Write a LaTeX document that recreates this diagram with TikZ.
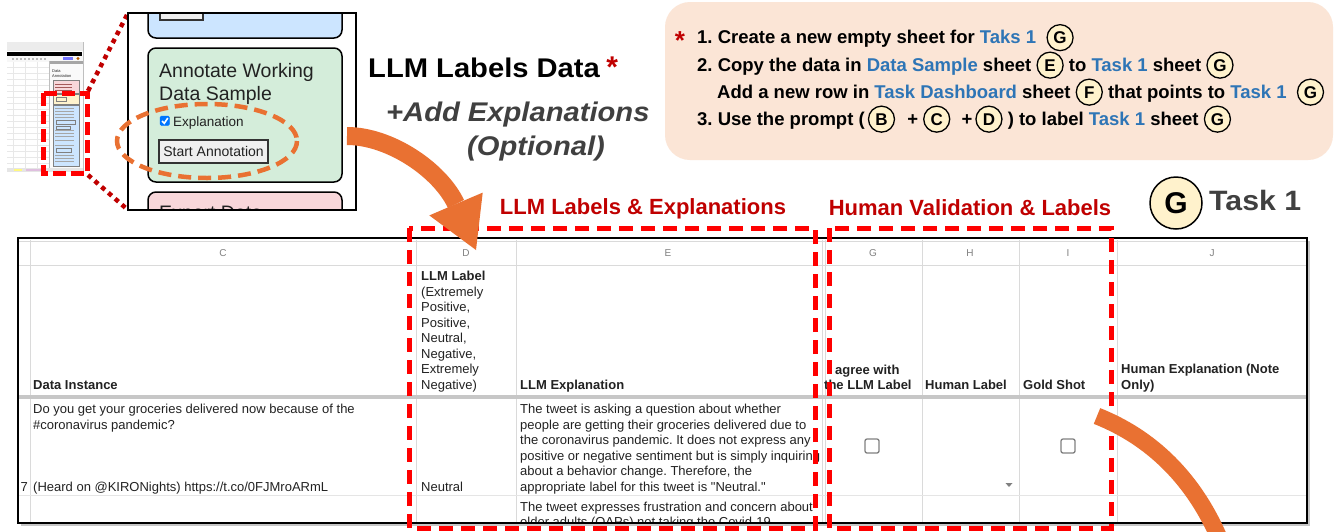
\documentclass[tikz,border=0pt]{standalone}
\usepackage{fontspec}
\setmainfont{Liberation Sans}[Ligatures=TeXOff]
\newfontfamily\widefont{Liberation Sans}[FakeStretch=1.08,Ligatures=TeXOff]
\usetikzlibrary{shapes.geometric}
\frenchspacing
\definecolor{orng}{HTML}{E97132}
\definecolor{darkred}{HTML}{C00000}
\definecolor{peach}{HTML}{FBE5D6}
\definecolor{linkblue}{HTML}{2E75B6}
\definecolor{circfill}{HTML}{FFF2CC}
\definecolor{titlegray}{HTML}{404040}
\definecolor{greenbox}{HTML}{D4EDDA}
\definecolor{bluebox}{HTML}{CCE5FF}
\definecolor{pinkbox}{HTML}{F8D7DA}
\definecolor{yellowbox}{HTML}{FFF3CD}
\definecolor{tabtext}{HTML}{222222}
\definecolor{gridline}{HTML}{DADADA}
\definecolor{chkblue}{HTML}{0075FF}
\definecolor{btnfill}{HTML}{EFEFEF}
\newcommand\fsz[2]{\fontsize{#1}{#2}\selectfont}
\newcommand\lnk[1]{\textcolor{linkblue}{#1}}
\tikzset{
  circ/.style={circle, draw, line width=1.3pt, fill=circfill, inner sep=0pt, minimum size=26pt, font={\normalfont\bfseries\fsz{17}{17}}},
  tabtxt/.style={anchor=base west, inner sep=0pt, text=tabtext, font={\fsz{13}{15.5}}, align=left},
  tabhead/.style={tabtxt, font={\bfseries\fsz{13}{15.5}}},
  colletter/.style={inner sep=0pt, text=gray, font={\fsz{10}{12}}},
  reddash/.style={draw=red, line width=5pt, dash pattern=on 14pt off 8pt},
  secttitle/.style={inner sep=0pt, text=darkred, font={\bfseries\fsz{22}{24}}},
  steptext/.style={anchor=base west, inner sep=0pt, font={\bfseries\fsz{18.5}{20}}},
  chkbox/.style={draw=gray, line width=1.3pt, rounded corners=2pt, minimum size=14pt, inner sep=0pt},
  uibox/.style={draw=black, line width=1.5pt, rounded corners=8pt},
  uitext/.style={anchor=base west, inner sep=0pt, text=tabtext},
  orangeline/.style={draw=orng, line width=18pt},
}
\newcommand\cl[1]{\tikz[baseline=(cc.base)]\node[circ](cc){#1};}
\begin{document}
\begin{tikzpicture}[x=1pt,y=-1pt]
\useasboundingbox (0,0) rectangle (1334,531);
\clip (0,0) rectangle (1334,531);
\fill[white] (0,0) rectangle (1334,531);

%% ---------- thumbnail of the sheet ----------
\fill[white] (7,42) rectangle (83,172);
\fill[gray!15] (7,42) rectangle (83,51);
\fill[black] (7,51.5) rectangle (82,55.5);
\fill[gray!6] (7,56) rectangle (83,62);
\foreach \i in {0,...,8} \fill[gray!55] (12+4*\i,58) rectangle (14+4*\i,60);
\fill[blue!55] (63,57) rectangle (73,60);
\fill[orange!70!black] (78,58.5) circle (1.6);
\foreach \yy in {67,73,...,163} \draw[gray!18,line width=0.3pt] (7,\yy) -- (49,\yy);
\foreach \xx in {13,25,37} \draw[gray!18,line width=0.3pt] (\xx,62) -- (\xx,168);
\fill[gray!4] (49,61) rectangle (83,168);
\fill[gray!70] (49,61) rectangle (83,64);
\draw[gray!50,line width=0.4pt] (49,61) -- (49,168) (83,42) -- (83,172);
\node[uitext, font={\fsz{4}{4.5}}] (tnA) at (52,72) {Data};
\node[uitext, font={\fsz{4}{4.5}}] (tnB) at (52,77) {Annotation};
\filldraw[draw=gray, line width=0.4pt, fill=pinkbox] (53,80) rectangle (79,93);
\filldraw[draw=gray, line width=0.4pt, fill=yellowbox] (53,94) rectangle (79,104);
\filldraw[draw=gray, line width=0.4pt, fill=bluebox] (53,105) rectangle (79,166);
\foreach \yy in {84,87,90} \draw[gray!70!red,line width=0.5pt] (55,\yy) -- (72,\yy);
\draw[gray,line width=0.4pt] (56,97) rectangle (66,101);
\foreach \yy in {108,111,114,117,130,133,136,140,145,155,158,161} \draw[gray!70,line width=0.5pt] (55,\yy) -- (74,\yy);
\draw[gray,line width=0.4pt] (56,120) rectangle (75,124) (56,126) rectangle (70,129) (56,148) rectangle (71,152);
\fill[gray!20] (7,168) rectangle (83,172);
\fill[yellow!50] (14,168.5) rectangle (22,171);
\fill[violet!25] (26,168.5) rectangle (46,171);

%% red dashed frame on thumbnail, dotted zoom lines
\draw[reddash, dash pattern=on 13pt off 5pt] (43,93) rectangle (87,173);
\coordinate (zA) at (88,91);
\coordinate (zB) at (88,175);
\coordinate (pA) at (128,13);
\coordinate (pB) at (128,210);
\draw[darkred, line width=4.5pt, dash pattern=on 4.5pt off 4.5pt] (zA) -- (pA);
\draw[darkred, line width=4.5pt, dash pattern=on 4.5pt off 4.5pt] (zB) -- (pB);

%% ---------- zoomed panel ----------
\fill[white] (128,13) rectangle (356,210);
\begin{scope}
\clip (128,13) rectangle (356,210);
\filldraw[uibox, fill=bluebox] (148,-20) rectangle (342,38);
\filldraw[draw=black!80, line width=1.3pt, fill=btnfill] (160,-10) rectangle (203,20);
\filldraw[uibox, fill=greenbox] (148,48) rectangle (342,182);
\node[uitext, font={\fsz{19.5}{22}}] (annA) at (159,77) {Annotate Working};
\node[uitext, font={\fsz{19.5}{22}}] (annB) at (159,100) {Data Sample};
\filldraw[draw=chkblue, fill=chkblue, rounded corners=1.5pt] (160,116) rectangle (169.5,125.5);
\draw[white, line width=1.6pt] (162,121) -- (164.3,123.3) -- (167.8,118);
\node[uitext, font={\fsz{13.5}{15}}] (expl) at (173,126) {Explanation};
\node[draw=black!80, line width=1.3pt, fill=btnfill, minimum width=109pt, minimum height=23pt, inner sep=0pt, font={\fsz{14}{16}}, text=tabtext] (startbtn) at (213.5,151.5) {Start Annotation};
\filldraw[uibox, fill=pinkbox] (148,192) rectangle (342,250);
\node[uitext, font={\fsz{19.5}{22}}] (export) at (159,219) {Export Data};
\end{scope}
\draw[black, line width=2pt] (128,13) rectangle (356,210);
\draw[orng, line width=4.5pt, dash pattern=on 13pt off 7pt] (207,141) ellipse [x radius=90, y radius=37];

%% ---------- titles in the middle ----------
\node[anchor=base west, inner sep=0pt, font={\widefont\bfseries\fsz{27}{30}}] (llmtitle) at (368,77) {LLM Labels Data};
\node[anchor=base west, inner sep=0pt, text=darkred, font={\bfseries\fsz{30}{30}}] (star1) at ([xshift=6pt]llmtitle.base east) {*};
\node[anchor=base west, inner sep=0pt, text=titlegray, font={\widefont\bfseries\itshape\fsz{27}{30}}] (addexp) at (386,121) {+Add Explanations};
\node[anchor=base west, inner sep=0pt, text=titlegray, font={\widefont\bfseries\itshape\fsz{27}{30}}] (optional) at (467,155) {(Optional)};

%% ---------- step box ----------
\fill[peach, rounded corners=25pt] (665,2) rectangle (1333,160);
\node[anchor=base, inner sep=0pt, text=darkred, font={\bfseries\fsz{26}{26}}] (star2) at (680,49) {*};
\node[steptext] (s1) at (697,43.5) {1. Create a new empty sheet for \lnk{Taks 1}\ \ \cl{G}};
\node[steptext] (s2) at (697,71) {2. Copy the data in \lnk{Data Sample} sheet \cl{E} to \lnk{Task 1} sheet \cl{G}};
\node[steptext] (s2b) at (717,98) {Add a new row in \lnk{Task Dashboard} sheet \cl{F} that points to \lnk{Task 1}\ \ \cl{G}};
\node[steptext] (s3) at (697,125) {3. Use the prompt (\,\cl{B}\hspace{7pt} +\hspace{5pt}\cl{C}\hspace{6pt} +\hspace{3pt}\cl{D} ) to label \lnk{Task 1} sheet \cl{G}};

%% ---------- Task 1 label ----------
\node[circle, draw, line width=1.5pt, fill=circfill, minimum size=52pt, inner sep=0pt, font={\bfseries\fsz{30}{30}}] (gbig) at (1176,203) {G};
\node[anchor=base west, inner sep=0pt, text=titlegray, font={\widefont\bfseries\fsz{28}{30}}] (task1) at (1209,210) {Task 1};

%% ---------- section titles ----------
\node[secttitle] (llmsec) at (643,209) {LLM Labels \& Explanations};
\node[secttitle] (humsec) at (970,208) {Human Validation \& Labels};

%% ---------- spreadsheet ----------
\fill[gray!45] (21,241) rectangle (1310,526);
\fill[white] (18,238) rectangle (1307,523);
\foreach \xx in {30,416,516,822,825,922,1019,1117}
  \draw[gridline, line width=1pt] (\xx,240) -- (\xx,523);
\draw[gridline, line width=1pt] (18,241) -- (1307,241);
\draw[gridline, line width=1pt] (18,265) -- (1307,265);
\draw[black!22, line width=3.5pt] (18,397) -- (1307,397);
\draw[gridline!70, line width=1pt] (18,495) -- (1307,495);
\draw[black, line width=2pt] (18,238) rectangle (1307,523);

\node[colletter] (colC) at (223,253) {C};
\node[colletter] (colD) at (466,253) {D};
\node[colletter] (colE) at (668,253) {E};
\node[colletter] (colG) at (873,253) {G};
\node[colletter] (colH) at (970,253) {H};
\node[colletter] (colI) at (1068,253) {I};
\node[colletter] (colJ) at (1212,253) {J};

\node[tabhead] (hC) at (33,389) {Data Instance};
\node[tabtxt, font={\fsz{13}{15.43}}] (hD) at (421,389) {\textbf{LLM Label}\\(Extremely\\Positive,\\Positive,\\Neutral,\\Negative,\\Extremely\\Negative)};
\node[tabhead] (hE) at (520,389) {LLM Explanation};
\node[tabhead] (hG1) at (835,374) {agree with};
\node[tabhead] (hG2) at (824,389) {the LLM Label};
\node[tabhead] (hH) at (925,389) {Human Label};
\node[tabhead] (hI) at (1023,389) {Gold Shot};
\node[tabhead] (hJ) at (1121,389) {Human Explanation (Note\\Only)};

\node[tabtxt] (dC1) at (33,429) {Do you get your groceries delivered now because of the\\\#coronavirus pandemic?};
\node[tabtxt] (dC2) at (33,491) {(Heard on @KIRONights) https://t.co/0FJMroARmL};
\node[tabtxt, anchor=base east] (rownum) at (28,491) {7};
\node[tabtxt] (dD) at (421,491) {Neutral};
\begin{scope}
\clip (517,398) rectangle (821,521);
\node[tabtxt] (dE) at (520,491) {The tweet is asking a question about whether\\people are getting their groceries delivered due to\\the coronavirus pandemic. It does not express any\\positive or negative sentiment but is simply inquiring\\about a behavior change. Therefore, the\\appropriate label for this tweet is "Neutral."};
\node[tabtxt] (dE2) at (520,526.5) {The tweet expresses frustration and concern about\\older adults (OAPs) not taking the Covid-19};
\end{scope}
\node[chkbox] (cbG) at (872,446) {};
\node[chkbox] (cbI) at (1068,446) {};
\fill[gray] (1005.5,483) -- (1012.5,483) -- (1009,487) -- cycle;

%% ---------- red dashed frames ----------
\draw[reddash] (409,228) rectangle (815,528);
\draw[reddash] (829,228) rectangle (1111,528);

%% ---------- orange arrows ----------
\coordinate (a0) at (347,136);
\coordinate (a1) at (456,204);
\draw[orangeline] (a0) .. controls (390,136) and (440,170) .. (a1);
\fill[orng] (429.3,215.4) -- (482.7,192.6) -- (476,250) -- cycle;
\coordinate (b0) at (1097,416);
\coordinate (b1) at (1222,545);
\draw[orng, line width=17pt] (b0) .. controls (1150,437) and (1195,478) .. (b1);
\end{tikzpicture}
\end{document}
